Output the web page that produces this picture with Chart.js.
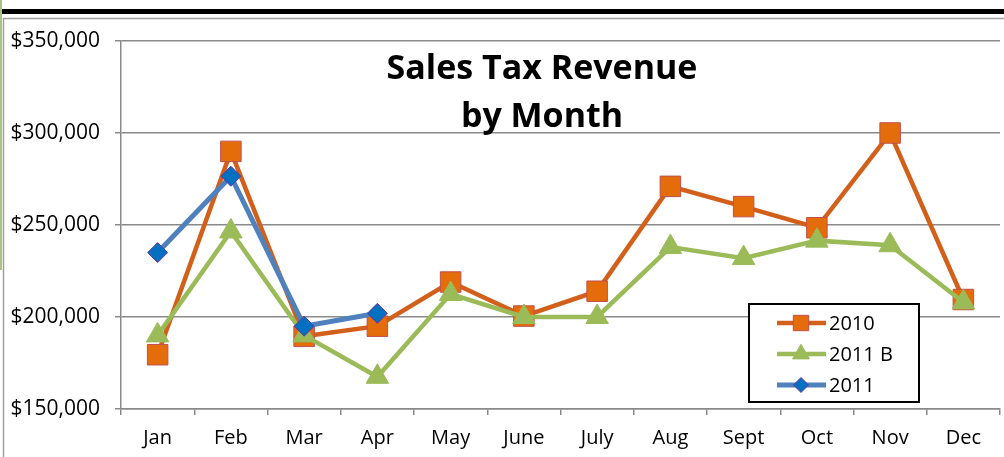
<!DOCTYPE html>
<html>
<head>
<meta charset="utf-8">
<script src="https://cdn.jsdelivr.net/npm/chart.js@4.4.1/dist/chart.umd.min.js"></script>
<style>
    html, body { margin: 0; padding: 0; background: #fff; }
    #wrap { position: relative; width: 1004px; height: 457px; }
</style>
</head>
<body>
<div id="wrap"><canvas id="salesTaxChart" width="1004" height="457"></canvas></div>
<script>
// Data
const months = ["Jan", "Feb", "Mar", "Apr", "May", "June", "July", "Aug", "Sept", "Oct", "Nov", "Dec"];
const sales2010 = [179500, 290000, 189500, 195000, 219000, 200500, 214000, 271000, 260000, 248500, 300000, 209500];
const budget2011 = [190000, 246500, 190000, 167500, 212500, 200000, 200000, 238000, 232000, 241500, 239000, 208000];
const sales2011 = [235000, 276500, 195000, 202000];
const yTicks = [150000, 200000, 250000, 300000, 350000];
const titleLines = ["Sales Tax Revenue", "by Month"];

const FONT = "'Open Sans', 'Liberation Sans', sans-serif";
const GRID = "#8a8a8a";

// Frame bits from the spreadsheet around the chart
const framePlugin = {
    id: "framePlugin",
    beforeDraw(chart) {
        const ctx = chart.ctx;
        ctx.save();
        ctx.fillStyle = "#fff";
        ctx.fillRect(0, 0, chart.width, chart.height);
        ctx.fillStyle = "#000";
        ctx.fillRect(0, 9, chart.width, 5);
        ctx.fillStyle = "#a9c47f";
        ctx.fillRect(0, 0, 2, 270);
        ctx.strokeStyle = "#a0a0a0";
        ctx.lineWidth = 1.5;
        ctx.beginPath();
        ctx.moveTo(3.5, chart.height);
        ctx.lineTo(3.5, 18.5);
        ctx.lineTo(chart.width, 18.5);
        ctx.stroke();
        ctx.restore();
    },
};

// Title inside the plot area
const titlePlugin = {
    id: "titlePlugin",
    beforeDatasetsDraw(chart) {
        const ctx = chart.ctx;
        ctx.save();
        ctx.font = "bold 34px " + FONT;
        ctx.fillStyle = "#000";
        ctx.textAlign = "center";
        ctx.textBaseline = "middle";
        titleLines.forEach((line, i) => {
            ctx.fillText(line, 542, 69 + i * 48);
        });
        ctx.restore();
    },
};

// Boxed legend in the lower right
const boxLegendPlugin = {
    id: "boxLegendPlugin",
    afterDatasetsDraw(chart) {
        const ctx = chart.ctx;
        const x = 749, y = 304, w = 170, h = 98;
        ctx.save();
        ctx.fillStyle = "#fff";
        ctx.fillRect(x, y, w, h);
        ctx.strokeStyle = "#000";
        ctx.lineWidth = 2;
        ctx.strokeRect(x, y, w, h);

        chart.data.datasets.forEach((ds, i) => {
            const cy = y + 19 + i * 31;
            ctx.strokeStyle = ds.borderColor;
            ctx.lineWidth = ds.borderWidth;
            ctx.beginPath();
            ctx.moveTo(x + 28, cy);
            ctx.lineTo(x + 77, cy);
            ctx.stroke();
            ctx.fillStyle = ds.pointBackgroundColor;
            ctx.strokeStyle = ds.pointBorderColor;
            ctx.lineWidth = 1;
            Chart.helpers.drawPoint(ctx, {
                pointStyle: ds.pointStyle,
                radius: ds.pointRadius * 0.75,
                rotation: 0,
                borderWidth: 1,
            }, x + 52, cy);
            ctx.fillStyle = "#000";
            ctx.font = "20px " + FONT;
            ctx.textAlign = "left";
            ctx.textBaseline = "middle";
            ctx.fillText(ds.label, x + 80, cy + 1);
        });
        ctx.restore();
    },
};

const ctx = document.getElementById("salesTaxChart").getContext("2d");

new Chart(ctx, {
    type: "line",
    data: {
        labels: months,
        datasets: [
            {
                label: "2010",
                data: sales2010,
                borderColor: "#d2601a",
                borderWidth: 4.5,
                pointStyle: "rect",
                pointRadius: 14.5,
                pointBackgroundColor: "#e46c0a",
                pointBorderColor: "#c0504d",
                pointBorderWidth: 1,
                tension: 0,
                order: 3,
            },
            {
                label: "2011 B",
                data: budget2011,
                borderColor: "#9bbb59",
                borderWidth: 4.5,
                pointStyle: "triangle",
                pointRadius: 13,
                pointBackgroundColor: "#9bbb59",
                pointBorderColor: "#9bbb59",
                pointBorderWidth: 1,
                tension: 0,
                order: 2,
            },
            {
                label: "2011",
                data: sales2011,
                borderColor: "#4f81bd",
                borderWidth: 5,
                pointStyle: "rectRot",
                pointRadius: 10,
                pointBackgroundColor: "#0070c0",
                pointBorderColor: "#7030a0",
                pointBorderWidth: 1,
                tension: 0,
                order: 1,
            },
        ],
    },
    options: {
        responsive: false,
        animation: false,
        layout: {
            autoPadding: false,
            padding: { top: 41, right: 4, left: 0, bottom: 0 },
        },
        plugins: {
            legend: { display: false },
            title: { display: false },
            tooltip: { enabled: false },
        },
        scales: {
            x: {
                offset: true,
                grid: {
                    offset: true,
                    drawOnChartArea: false,
                    drawTicks: true,
                    tickLength: 6,
                    color: GRID,
                    lineWidth: 1.5,
                },
                border: { display: true, color: GRID, width: 1.5 },
                ticks: {
                    color: "#000",
                    font: { family: FONT, size: 20 },
                    padding: 11,
                    autoSkip: false,
                    maxRotation: 0,
                },
                afterFit(scale) {
                    scale.height = 48;
                    scale.paddingLeft = 0;
                    scale.paddingRight = 0;
                },
            },
            y: {
                min: yTicks[0],
                max: yTicks[yTicks.length - 1],
                afterBuildTicks(scale) {
                    scale.ticks = yTicks.map((v) => ({ value: v }));
                },
                grid: {
                    color: GRID,
                    lineWidth: 1.5,
                    drawTicks: true,
                    tickLength: 6,
                },
                border: { display: true, color: GRID, width: 1.5 },
                ticks: {
                    color: "#000",
                    font: { family: FONT, size: 21 },
                    padding: 15,
                    callback: (v) => "$" + v.toLocaleString("en-US"),
                },
                afterFit(scale) {
                    scale.width = 121;
                    scale.paddingTop = 0;
                    scale.paddingBottom = 0;
                },
            },
        },
    },
    plugins: [framePlugin, titlePlugin, boxLegendPlugin],
});
</script>
</body>
</html>
